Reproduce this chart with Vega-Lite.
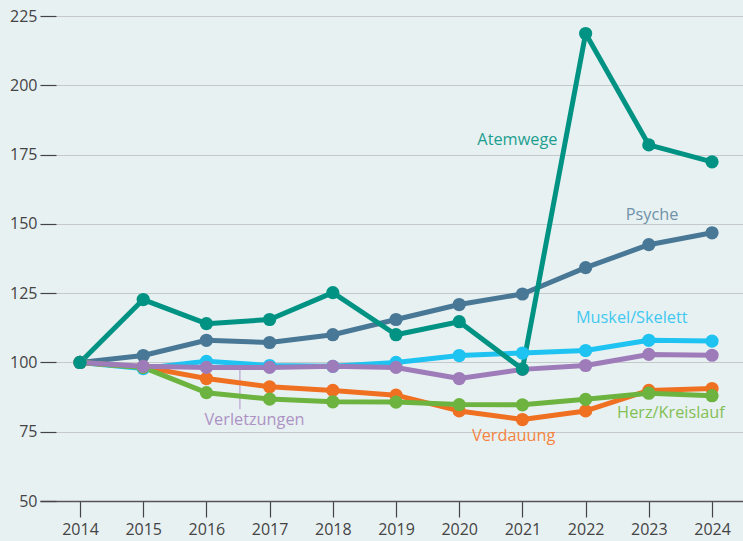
{
  "$schema": "https://vega.github.io/schema/vega-lite/v6.json",
  "width": 703,
  "height": 501,
  "autosize": {"type": "none"},
  "padding": {"left": 40, "top": 0, "right": 0, "bottom": 40},
  "background": "#e8f1f2",
  "config": {"view": {"stroke": null}, "font": "Open Sans"},
  "datasets": {
    "series": [
      {"year": 2014, "value": 100, "s": "Psyche"},
      {"year": 2015, "value": 102.5, "s": "Psyche"},
      {"year": 2016, "value": 108, "s": "Psyche"},
      {"year": 2017, "value": 107.2, "s": "Psyche"},
      {"year": 2018, "value": 110, "s": "Psyche"},
      {"year": 2019, "value": 115.5, "s": "Psyche"},
      {"year": 2020, "value": 120.9, "s": "Psyche"},
      {"year": 2021, "value": 124.7, "s": "Psyche"},
      {"year": 2022, "value": 134.2, "s": "Psyche"},
      {"year": 2023, "value": 142.5, "s": "Psyche"},
      {"year": 2024, "value": 146.8, "s": "Psyche"},
      {"year": 2014, "value": 100, "s": "Muskel/Skelett"},
      {"year": 2015, "value": 97.8, "s": "Muskel/Skelett"},
      {"year": 2016, "value": 100.4, "s": "Muskel/Skelett"},
      {"year": 2017, "value": 98.9, "s": "Muskel/Skelett"},
      {"year": 2018, "value": 98.6, "s": "Muskel/Skelett"},
      {"year": 2019, "value": 100, "s": "Muskel/Skelett"},
      {"year": 2020, "value": 102.5, "s": "Muskel/Skelett"},
      {"year": 2021, "value": 103.4, "s": "Muskel/Skelett"},
      {"year": 2022, "value": 104.3, "s": "Muskel/Skelett"},
      {"year": 2023, "value": 108, "s": "Muskel/Skelett"},
      {"year": 2024, "value": 107.7, "s": "Muskel/Skelett"},
      {"year": 2014, "value": 100, "s": "Verdauung"},
      {"year": 2015, "value": 98.4, "s": "Verdauung"},
      {"year": 2016, "value": 94.2, "s": "Verdauung"},
      {"year": 2017, "value": 91.2, "s": "Verdauung"},
      {"year": 2018, "value": 89.9, "s": "Verdauung"},
      {"year": 2019, "value": 88.2, "s": "Verdauung"},
      {"year": 2020, "value": 82.5, "s": "Verdauung"},
      {"year": 2021, "value": 79.4, "s": "Verdauung"},
      {"year": 2022, "value": 82.5, "s": "Verdauung"},
      {"year": 2023, "value": 89.9, "s": "Verdauung"},
      {"year": 2024, "value": 90.6, "s": "Verdauung"},
      {"year": 2014, "value": 100, "s": "Herz/Kreislauf"},
      {"year": 2015, "value": 98.2, "s": "Herz/Kreislauf"},
      {"year": 2016, "value": 89.1, "s": "Herz/Kreislauf"},
      {"year": 2017, "value": 86.8, "s": "Herz/Kreislauf"},
      {"year": 2018, "value": 85.8, "s": "Herz/Kreislauf"},
      {"year": 2019, "value": 85.7, "s": "Herz/Kreislauf"},
      {"year": 2020, "value": 84.8, "s": "Herz/Kreislauf"},
      {"year": 2021, "value": 84.7, "s": "Herz/Kreislauf"},
      {"year": 2022, "value": 86.7, "s": "Herz/Kreislauf"},
      {"year": 2023, "value": 88.9, "s": "Herz/Kreislauf"},
      {"year": 2024, "value": 88, "s": "Herz/Kreislauf"},
      {"year": 2014, "value": 100, "s": "Verletzungen"},
      {"year": 2015, "value": 98.6, "s": "Verletzungen"},
      {"year": 2016, "value": 98.2, "s": "Verletzungen"},
      {"year": 2017, "value": 98.2, "s": "Verletzungen"},
      {"year": 2018, "value": 98.6, "s": "Verletzungen"},
      {"year": 2019, "value": 98.2, "s": "Verletzungen"},
      {"year": 2020, "value": 94.2, "s": "Verletzungen"},
      {"year": 2021, "value": 97.5, "s": "Verletzungen"},
      {"year": 2022, "value": 98.9, "s": "Verletzungen"},
      {"year": 2023, "value": 102.9, "s": "Verletzungen"},
      {"year": 2024, "value": 102.6, "s": "Verletzungen"},
      {"year": 2014, "value": 100, "s": "Atemwege"},
      {"year": 2015, "value": 122.7, "s": "Atemwege"},
      {"year": 2016, "value": 114, "s": "Atemwege"},
      {"year": 2017, "value": 115.5, "s": "Atemwege"},
      {"year": 2018, "value": 125.2, "s": "Atemwege"},
      {"year": 2019, "value": 110, "s": "Atemwege"},
      {"year": 2020, "value": 114.7, "s": "Atemwege"},
      {"year": 2021, "value": 97.6, "s": "Atemwege"},
      {"year": 2022, "value": 218.7, "s": "Atemwege"},
      {"year": 2023, "value": 178.5, "s": "Atemwege"},
      {"year": 2024, "value": 172.4, "s": "Atemwege"}
    ],
    "labels": [
      {"x": 2020.92, "y": 180.4, "s": "Atemwege"},
      {"x": 2023.05, "y": 153.3, "s": "Psyche"},
      {"x": 2022.73, "y": 115.9, "s": "Muskel/Skelett"},
      {"x": 2023.35, "y": 81.6, "s": "Herz/Kreislauf"},
      {"x": 2020.86, "y": 73.3, "s": "Verdauung"},
      {"x": 2016.76, "y": 79.1, "s": "Verletzungen"}
    ],
    "leader": [
      {"x": 2016.53, "y": 97.5, "y2": 83.1}
    ]
  },
  "encoding": {
    "x": {
      "type": "quantitative",
      "scale": {"domain": [2013.367, 2024.49], "nice": false, "zero": false}
    },
    "y": {
      "type": "quantitative",
      "scale": {"domain": [50, 230.8], "nice": false, "zero": false}
    }
  },
  "layer": [
    {
      "data": {"name": "leader"},
      "mark": {"type": "rule", "color": "#b9a3cf", "strokeWidth": 1.2},
      "encoding": {
        "x": {"field": "x", "type": "quantitative", "axis": {
          "values": [2014, 2015, 2016, 2017, 2018, 2019, 2020, 2021, 2022, 2023, 2024],
          "format": "d", "title": null, "grid": false,
          "domainColor": "#555555", "domainWidth": 1.5,
          "tickColor": "#444444", "tickSize": 16, "tickWidth": 1.2,
          "labelFont": "Open Sans", "labelFontSize": 16, "labelColor": "#444444",
          "labelPadding": 4, "labelFlush": false
        }},
        "y": {"field": "y", "type": "quantitative", "axis": {
          "values": [50, 75, 100, 125, 150, 175, 200, 225],
          "title": null, "domain": false, "grid": true,
          "gridColor": "#c6c9cb", "gridWidth": 1.2,
          "tickColor": "#444444", "tickSize": -16, "tickWidth": 1.2,
          "labelFont": "Open Sans", "labelFontSize": 16, "labelColor": "#444444",
          "labelPadding": 19
        }},
        "y2": {"field": "y2"}
      }
    },
    {
      "data": {"name": "series"},
      "mark": {"type": "line", "strokeWidth": 5, "strokeJoin": "round"},
      "encoding": {
        "x": {"field": "year", "type": "quantitative"},
        "y": {"field": "value", "type": "quantitative"},
        "color": {
          "field": "s", "type": "nominal", "legend": null,
          "scale": {
            "domain": ["Psyche", "Muskel/Skelett", "Verdauung", "Herz/Kreislauf", "Verletzungen", "Atemwege"],
            "range": ["#487896", "#1ec3f2", "#f07022", "#6cb33f", "#9d7cb9", "#009383"]
          }
        }
      }
    },
    {
      "data": {"name": "series"},
      "mark": {"type": "point", "filled": true, "opacity": 1, "size": 175},
      "encoding": {
        "x": {"field": "year", "type": "quantitative"},
        "y": {"field": "value", "type": "quantitative"},
        "color": {
          "field": "s", "type": "nominal", "legend": null,
          "scale": {
            "domain": ["Psyche", "Muskel/Skelett", "Verdauung", "Herz/Kreislauf", "Verletzungen", "Atemwege"],
            "range": ["#487896", "#1ec3f2", "#f07022", "#6cb33f", "#9d7cb9", "#009383"]
          }
        }
      }
    },
    {
      "data": {"name": "labels"},
      "mark": {"type": "text", "font": "Open Sans", "fontSize": 16.3, "align": "center", "baseline": "middle"},
      "encoding": {
        "x": {"field": "x", "type": "quantitative"},
        "y": {"field": "y", "type": "quantitative"},
        "text": {"field": "s"},
        "color": {
          "field": "s", "type": "nominal", "legend": null,
          "scale": {
            "domain": ["Psyche", "Muskel/Skelett", "Verdauung", "Herz/Kreislauf", "Verletzungen", "Atemwege"],
            "range": ["#6f92a8", "#40c8f0", "#f4843f", "#82bf55", "#ad93c4", "#1c9e8f"]
          }
        }
      }
    }
  ],
  "resolve": {"scale": {"color": "independent"}}
}
